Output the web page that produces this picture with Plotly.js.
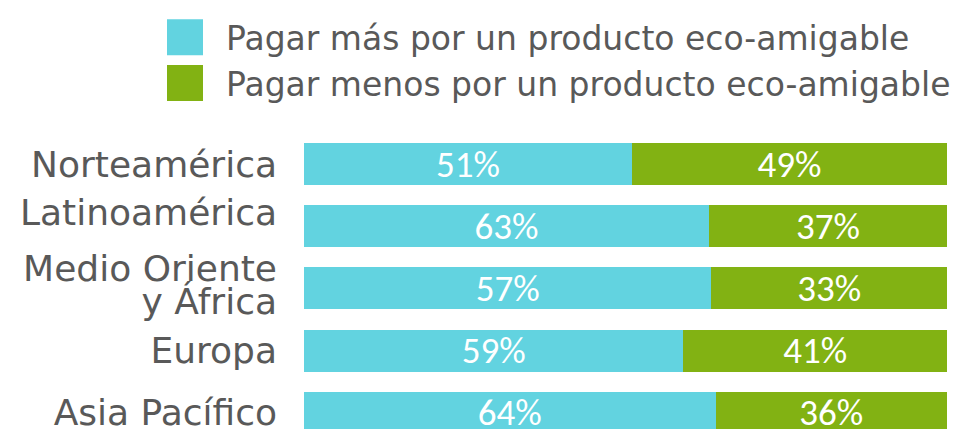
<!DOCTYPE html>
<html>
<head>
<meta charset="utf-8">
<script src="https://cdn.plot.ly/plotly-3.0.1.min.js"></script>
<style>
  html, body { margin: 0; padding: 0; background: #ffffff; }
  #chart { width: 956px; height: 429px; }
</style>
</head>
<body>
<div id="chart"></div>
<script>
// ---- data ----
const categories = ['Norteamérica', 'Latinoamérica', 'Medio Oriente<br>y África', 'Europa', 'Asia Pacífico'];
const seriesNames = ['Pagar más por un producto eco-amigable', 'Pagar menos por un producto eco-amigable'];
const masValues = [51, 63, 57, 59, 64];
const menosValues = [49, 37, 33, 41, 36];

const colors = ['#62D3E0', '#82B213'];
const textFontFamily = "Carlito, Calibri, 'Open Sans', sans-serif";

function makeTrace(name, values, color) {
  return {
    type: 'bar',
    orientation: 'h',
    name: name,
    y: categories,
    x: values,
    text: values.map(v => v + '%'),
    texttemplate: '%{text}',
    textposition: 'inside',
    insidetextanchor: 'middle',
    constraintext: 'none',
    textangle: 0,
    textfont: { family: textFontFamily, size: 37, color: '#ffffff' },
    marker: { color: color, line: { width: 0 } },
    hoverinfo: 'skip'
  };
}

const traces = [
  makeTrace(seriesNames[0], masValues, colors[0]),
  makeTrace(seriesNames[1], menosValues, colors[1])
];

const layout = {
  width: 956,
  height: 429,
  margin: { l: 304, r: 9, t: 133, b: 0, pad: 0 },
  paper_bgcolor: '#ffffff',
  plot_bgcolor: '#ffffff',
  barmode: 'stack',
  barnorm: 'percent',
  bargap: 0.325,
  showlegend: true,
  legend: {
    orientation: 'v',
    traceorder: 'normal',
    x: -0.23,
    xanchor: 'left',
    y: 1.418,
    yanchor: 'top',
    itemwidth: 72,
    bgcolor: 'rgba(0,0,0,0)',
    font: { family: 'DejaVu Sans', size: 33, color: '#595959' }
  },
  xaxis: {
    range: [0, 100],
    visible: false,
    fixedrange: true
  },
  yaxis: {
    type: 'category',
    range: [4.26, -0.5],
    ticks: '',
    showline: false,
    showgrid: false,
    zeroline: false,
    ticklabelstandoff: 26,
    tickfont: { family: 'DejaVu Sans', size: 36, color: '#595959' },
    fixedrange: true
  },
  hovermode: false
};

function adjustText() {
  // larger legend squares, as in the reference
  document.querySelectorAll('#chart .legendpoints path').forEach(p => {
    p.setAttribute('d', 'M18,18H-18V-18H18Z');
  });
  // tighter line spacing for two-line tick labels, and small offsets as in the reference
  document.querySelectorAll('#chart .ytick text').forEach(t => {
    const lines = t.querySelectorAll('tspan.line');
    lines.forEach((ln, i) => { ln.setAttribute('dy', (i * 0.93) + 'em'); });
    if (lines.length > 1) {
      t.parentNode.setAttribute('transform', 'translate(0,3)');
    }
    if (t.textContent === 'Latinoamérica') {
      t.parentNode.setAttribute('transform', 'translate(0,-14)');
    }
  });
}

const gd = document.getElementById('chart');
Plotly.newPlot(gd, traces, layout, { displayModeBar: false, staticPlot: true }).then(() => {
  adjustText();
  gd.on('plotly_afterplot', adjustText);
});
</script>
</body>
</html>
